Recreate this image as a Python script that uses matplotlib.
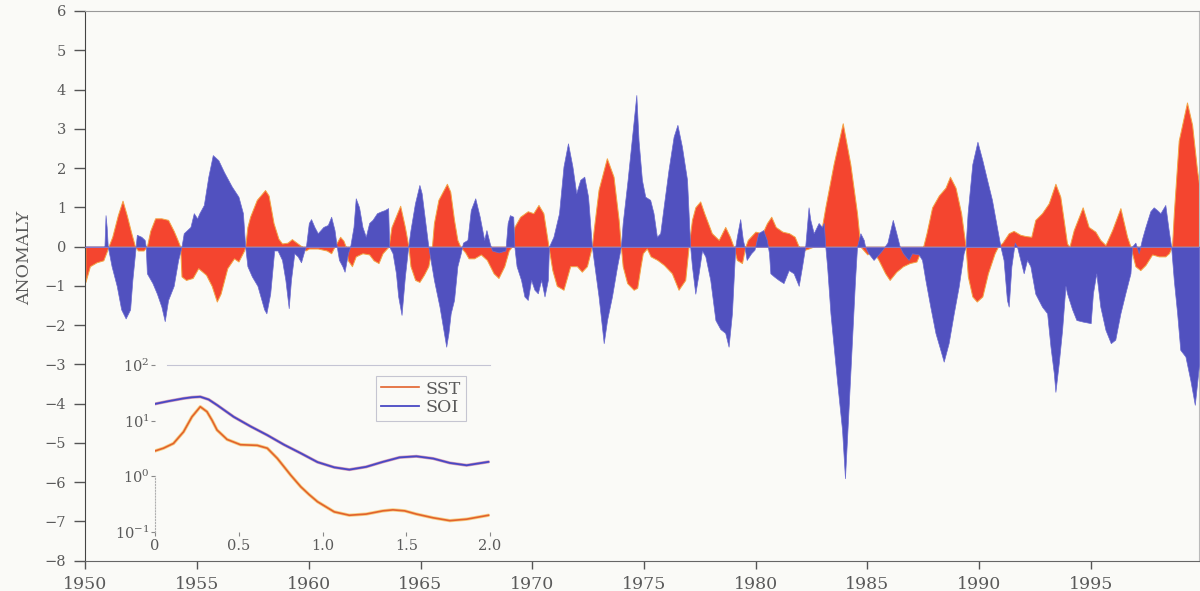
import matplotlib
matplotlib.use("Agg")
import matplotlib.pyplot as plt

plt.rcParams['font.family'] = ['DejaVu Serif']
plt.rcParams['mathtext.fontset'] = 'dejavuserif'

# SST anomaly (red), sampled at turning points
sst_years = [1950.0, 1950.2, 1950.5, 1950.8, 1950.97, 1951.03, 1951.2, 1951.45, 1951.66, 1951.85,
             1952.05, 1952.22, 1952.35, 1952.6, 1952.75, 1952.9, 1953.12, 1953.4, 1953.7, 1953.95,
             1954.1, 1954.24, 1954.3, 1954.5, 1954.8, 1955.05, 1955.4, 1955.65, 1955.88, 1956.05,
             1956.35, 1956.65, 1956.85, 1957.1, 1957.15, 1957.25, 1957.37, 1957.67, 1958.04, 1958.2,
             1958.42, 1958.64, 1958.8, 1959.05, 1959.24, 1959.45, 1959.69, 1959.85, 1960.0, 1960.4,
             1960.8, 1961.0, 1961.15, 1961.4, 1961.55, 1961.65, 1961.75, 1961.93, 1962.1, 1962.4,
             1962.7, 1962.9, 1963.12, 1963.3, 1963.57, 1963.7, 1964.09, 1964.3, 1964.46, 1964.55,
             1964.76, 1964.95, 1965.15, 1965.35, 1965.51, 1965.6, 1965.8, 1966.18, 1966.33, 1966.5,
             1966.65, 1966.78, 1967.0, 1967.15, 1967.4, 1967.7, 1967.97, 1968.27, 1968.49, 1968.75,
             1968.95, 1969.09, 1969.2, 1969.46, 1969.8, 1970.05, 1970.28, 1970.5, 1970.73, 1970.9,
             1971.1, 1971.4, 1971.7, 1972.0, 1972.22, 1972.45, 1972.67, 1972.75, 1972.97, 1973.34,
             1973.64, 1973.87, 1973.97, 1974.05, 1974.25, 1974.54, 1974.7, 1974.85, 1974.95, 1975.13,
             1975.3, 1975.6, 1975.9, 1976.25, 1976.55, 1976.85, 1977.0, 1977.15, 1977.3, 1977.52,
             1977.7, 1978.04, 1978.35, 1978.64, 1978.85, 1979.01, 1979.16, 1979.39, 1979.54, 1979.65,
             1979.99, 1980.3, 1980.51, 1980.7, 1980.9, 1981.2, 1981.5, 1981.75, 1981.93, 1982.1,
             1982.37, 1982.6, 1982.85, 1983.12, 1983.49, 1983.9, 1984.24, 1984.54, 1984.69, 1985.0,
             1985.25, 1985.5, 1985.8, 1986.0, 1986.3, 1986.6, 1986.9, 1987.2, 1987.4, 1987.5,
             1987.65, 1987.9, 1988.2, 1988.5, 1988.7, 1988.95, 1989.2, 1989.4, 1989.5, 1989.7,
             1989.9, 1990.15, 1990.4, 1990.7, 1990.85, 1991.05, 1991.33, 1991.55, 1991.85, 1992.07,
             1992.34, 1992.52, 1992.82, 1993.12, 1993.42, 1993.64, 1993.79, 1993.94, 1994.05, 1994.24,
             1994.64, 1994.91, 1995.21, 1995.43, 1995.66, 1995.96, 1996.33, 1996.63, 1996.78, 1997.0,
             1997.22, 1997.45, 1997.75, 1998.05, 1998.34, 1998.5, 1998.64, 1998.72, 1998.94, 1999.31,
             1999.54, 1999.76, 1999.85]
sst_vals = [-0.9, -0.5, -0.4, -0.35, -0.1, 0.0, 0.25, 0.8, 1.17, 0.8,
            0.35, 0.0, -0.1, -0.1, 0.0, 0.4, 0.72, 0.72, 0.68, 0.4,
            0.2, 0.0, -0.76, -0.85, -0.8, -0.55, -0.72, -1.0, -1.4, -1.2,
            -0.55, -0.3, -0.38, -0.1, 0.0, 0.5, 0.76, 1.19, 1.44, 1.3,
            0.6, 0.2, 0.08, 0.1, 0.19, 0.1, 0.0, -0.1, -0.05, -0.05,
            -0.1, -0.17, 0.0, 0.25, 0.15, 0.0, -0.35, -0.5, -0.25, -0.17,
            -0.2, -0.35, -0.42, -0.17, 0.0, 0.5, 1.04, 0.5, 0.0, -0.5,
            -0.85, -0.9, -0.72, -0.5, 0.0, 0.6, 1.19, 1.6, 1.4, 0.68,
            0.17, 0.0, -0.15, -0.3, -0.3, -0.2, -0.34, -0.68, -0.8, -0.5,
            -0.1, 0.0, 0.5, 0.76, 0.9, 0.85, 1.06, 0.85, 0.0, -0.6,
            -1.0, -1.1, -0.5, -0.5, -0.64, -0.5, 0.0, 0.42, 1.45, 2.25,
            1.78, 0.68, 0.0, -0.5, -0.93, -1.1, -1.05, -0.5, -0.17, -0.05,
            -0.25, -0.34, -0.47, -0.68, -1.1, -0.85, 0.0, 0.68, 1.0, 1.15,
            0.85, 0.34, 0.17, 0.5, 0.25, 0.0, -0.34, -0.42, 0.0, 0.17,
            0.38, 0.34, 0.6, 0.76, 0.5, 0.38, 0.34, 0.25, 0.0, -0.1,
            -0.05, 0.0, 0.1, 1.0, 2.1, 3.14, 2.1, 0.85, 0.0, -0.2,
            -0.1, -0.34, -0.68, -0.85, -0.64, -0.5, -0.42, -0.38, -0.1, 0.0,
            0.34, 1.0, 1.3, 1.5, 1.78, 1.5, 0.85, 0.0, -0.76, -1.27,
            -1.4, -1.27, -0.68, -0.17, 0.0, 0.1, 0.34, 0.4, 0.3, 0.27,
            0.25, 0.68, 0.85, 1.1, 1.6, 1.27, 0.68, 0.08, 0.0, 0.42,
            1.0, 0.5, 0.38, 0.17, 0.04, 0.42, 0.98, 0.25, 0.0, -0.5,
            -0.6, -0.47, -0.2, -0.25, -0.25, -0.17, 0.0, 0.85, 2.7, 3.67,
            3.1, 1.95, 1.6]

# Southern Oscillation Index (blue)
soi_years = [1950.0, 1950.85, 1950.9, 1950.95, 1951.0, 1951.17, 1951.4, 1951.6, 1951.8, 1952.0,
             1952.1, 1952.25, 1952.3, 1952.5, 1952.65, 1952.7, 1952.75, 1953.0, 1953.2, 1953.4,
             1953.55, 1953.7, 1953.95, 1954.15, 1954.3, 1954.4, 1954.7, 1954.85, 1955.0, 1955.1,
             1955.3, 1955.5, 1955.7, 1955.95, 1956.2, 1956.55, 1956.85, 1957.05, 1957.15, 1957.25,
             1957.45, 1957.7, 1958.0, 1958.1, 1958.27, 1958.45, 1958.6, 1958.8, 1958.95, 1959.1,
             1959.2, 1959.35, 1959.5, 1959.65, 1959.8, 1959.87, 1960.0, 1960.1, 1960.25, 1960.4,
             1960.65, 1960.85, 1961.0, 1961.15, 1961.25, 1961.35, 1961.5, 1961.6, 1961.75, 1961.85,
             1962.0, 1962.1, 1962.25, 1962.4, 1962.55, 1962.7, 1962.85, 1963.05, 1963.25, 1963.4,
             1963.55, 1963.6, 1963.75, 1963.9, 1964.0, 1964.15, 1964.3, 1964.45, 1964.55, 1964.75,
             1964.95, 1965.05, 1965.2, 1965.35, 1965.45, 1965.6, 1965.85, 1966.0, 1966.15, 1966.25,
             1966.35, 1966.5, 1966.65, 1966.8, 1966.9, 1967.1, 1967.25, 1967.45, 1967.65, 1967.85,
             1967.95, 1968.1, 1968.2, 1968.5, 1968.8, 1968.9, 1969.0, 1969.15, 1969.2, 1969.3,
             1969.5, 1969.65, 1969.8, 1969.95, 1970.1, 1970.25, 1970.4, 1970.55, 1970.7, 1970.75,
             1970.95, 1971.2, 1971.4, 1971.6, 1971.8, 1971.97, 1972.15, 1972.33, 1972.5, 1972.67,
             1972.75, 1972.97, 1973.12, 1973.2, 1973.35, 1973.57, 1973.8, 1973.97, 1974.05, 1974.27,
             1974.5, 1974.66, 1974.76, 1974.91, 1975.06, 1975.28, 1975.43, 1975.58, 1975.73, 1975.88,
             1976.1, 1976.33, 1976.5, 1976.7, 1976.93, 1977.0, 1977.07, 1977.15, 1977.3, 1977.45,
             1977.6, 1977.75, 1977.97, 1978.2, 1978.42, 1978.64, 1978.79, 1978.94, 1979.09, 1979.16,
             1979.31, 1979.43, 1979.5, 1979.6, 1979.8, 1979.95, 1980.12, 1980.34, 1980.5, 1980.6,
             1980.66, 1980.82, 1981.03, 1981.25, 1981.48, 1981.7, 1981.93, 1982.08, 1982.22, 1982.37,
             1982.45, 1982.6, 1982.82, 1982.97, 1983.05, 1983.12, 1983.2, 1983.35, 1983.64, 1983.87,
             1984.0, 1984.15, 1984.3, 1984.45, 1984.54, 1984.69, 1984.84, 1984.9, 1985.05, 1985.28,
             1985.5, 1985.65, 1985.9, 1986.14, 1986.3, 1986.45, 1986.6, 1986.85, 1987.0, 1987.3,
             1987.45, 1987.6, 1987.82, 1988.05, 1988.27, 1988.42, 1988.64, 1988.87, 1989.09, 1989.31,
             1989.4, 1989.49, 1989.7, 1989.93, 1990.15, 1990.36, 1990.58, 1990.8, 1990.96, 1991.1,
             1991.25, 1991.33, 1991.45, 1991.6, 1991.7, 1991.85, 1992.0, 1992.15, 1992.3, 1992.52,
             1992.82, 1993.05, 1993.2, 1993.35, 1993.42, 1993.57, 1993.72, 1993.87, 1993.94, 1994.17,
             1994.36, 1994.64, 1995.0, 1995.1, 1995.25, 1995.43, 1995.66, 1995.9, 1996.1, 1996.33,
             1996.55, 1996.78, 1996.85, 1997.0, 1997.15, 1997.3, 1997.45, 1997.67, 1997.82, 1997.97,
             1998.12, 1998.34, 1998.49, 1998.6, 1998.72, 1998.87, 1999.01, 1999.24, 1999.46, 1999.66,
             1999.85]
soi_vals = [0.0, 0.0, 0.8, 0.5, 0.0, -0.5, -1.0, -1.6, -1.83, -1.6,
            -0.85, 0.0, 0.3, 0.25, 0.17, 0.0, -0.68, -0.93, -1.2, -1.53,
            -1.9, -1.36, -1.0, -0.34, 0.0, 0.34, 0.5, 0.85, 0.72, 0.85,
            1.06, 1.78, 2.33, 2.2, 1.9, 1.53, 1.27, 0.85, 0.0, -0.5,
            -0.76, -1.0, -1.6, -1.7, -1.2, -0.1, -0.1, -0.34, -0.85, -1.57,
            -0.85, -0.17, -0.25, -0.4, -0.1, 0.0, 0.6, 0.7, 0.5, 0.34,
            0.5, 0.55, 0.76, 0.42, 0.0, -0.34, -0.5, -0.64, -0.17, 0.0,
            0.5, 1.23, 1.0, 0.5, 0.25, 0.6, 0.68, 0.85, 0.9, 0.93,
            0.98, 0.0, -0.17, -0.68, -1.27, -1.74, -0.76, 0.0, 0.42, 1.1,
            1.57, 1.36, 0.68, 0.0, -0.34, -0.85, -1.53, -2.04, -2.55, -2.2,
            -1.7, -1.36, -0.5, -0.17, 0.1, 0.17, 0.93, 1.23, 0.76, 0.17,
            0.42, 0.08, -0.1, -0.15, -0.1, 0.6, 0.8, 0.76, 0.0, -0.5,
            -0.85, -1.27, -1.36, -0.85, -1.1, -1.19, -0.85, -1.27, -0.85, 0.0,
            0.25, 0.85, 2.04, 2.63, 2.04, 1.36, 1.7, 1.78, 1.27, 0.0,
            -0.34, -1.27, -2.04, -2.46, -1.87, -1.27, -0.5, 0.0, 0.6, 1.7,
            2.97, 3.86, 2.7, 1.7, 1.27, 1.19, 0.85, 0.25, 0.34, 1.0,
            1.95, 2.8, 3.1, 2.55, 1.7, 0.85, 0.0, -0.5, -1.2, -0.68,
            -0.1, -0.25, -0.85, -1.87, -2.1, -2.2, -2.55, -1.7, 0.0, 0.25,
            0.7, 0.17, 0.0, -0.34, -0.17, -0.08, 0.34, 0.42, 0.17, -0.17,
            -0.68, -0.76, -0.85, -0.93, -0.6, -0.68, -1.0, -0.5, 0.0, 1.0,
            0.68, 0.34, 0.6, 0.5, 0.6, 0.0, -0.5, -1.7, -3.4, -4.67,
            -5.9, -4.25, -2.55, -0.85, 0.0, 0.34, 0.17, 0.0, -0.17, -0.34,
            -0.2, -0.1, 0.1, 0.68, 0.34, 0.0, -0.17, -0.34, -0.17, -0.2,
            -0.34, -0.85, -1.53, -2.2, -2.63, -2.93, -2.46, -1.7, -1.02, -0.17,
            0.0, 0.85, 2.1, 2.67, 2.2, 1.7, 1.19, 0.5, 0.0, -0.34,
            -1.36, -1.53, -0.5, 0.1, 0.0, -0.34, -0.68, -0.34, -0.5, -1.2,
            -1.53, -1.7, -2.55, -3.23, -3.7, -2.97, -2.12, -1.0, -1.19, -1.6,
            -1.87, -1.91, -1.95, -1.19, -0.68, -1.53, -2.12, -2.46, -2.37, -1.7,
            -1.19, -0.68, 0.0, 0.1, -0.17, 0.2, 0.5, 0.9, 1.0, 0.93,
            0.85, 1.06, 0.42, 0.0, -0.85, -1.7, -2.63, -2.8, -3.4, -4.03,
            -3.0]

# power spectra for the inset
sst_freq = [0.0, 0.05, 0.11, 0.17, 0.22, 0.27, 0.31, 0.34, 0.37, 0.43,
            0.51, 0.61, 0.67, 0.73, 0.81, 0.87, 0.92, 0.97, 1.07, 1.16,
            1.26, 1.36, 1.42, 1.49, 1.56, 1.66, 1.76, 1.86, 1.99]
sst_power = [2.86, 3.2, 3.9, 6.3, 11.7, 17.8, 14.5, 10.2, 6.8, 4.6,
             3.7, 3.6, 3.2, 2.1, 1.05, 0.65, 0.47, 0.35, 0.23, 0.20,
             0.21, 0.24, 0.25, 0.24, 0.21, 0.18, 0.16, 0.17, 0.20]
soi_freq = [0.0, 0.08, 0.17, 0.22, 0.27, 0.32, 0.37, 0.47, 0.57, 0.67,
            0.77, 0.87, 0.97, 1.07, 1.16, 1.26, 1.36, 1.46, 1.56, 1.66,
            1.76, 1.86, 1.99]
soi_power = [20.0, 22.4, 25.1, 26.3, 26.9, 24.0, 19.1, 11.7, 7.9, 5.5,
             3.7, 2.6, 1.8, 1.45, 1.32, 1.48, 1.82, 2.19, 2.29, 2.09,
             1.74, 1.58, 1.82]

year_ticks = [1950, 1955, 1960, 1965, 1970, 1975, 1980, 1985, 1990, 1995]
freq_ticks = [0, 0.5, 1.0, 1.5, 2.0]
freq_labels = ['0', '0.5', '1.0', '1.5', '2.0']

bg = '#fafaf7'
red = '#f4452f'
blue = '#5151bf'
txt = '#5a5a5a'

fig = plt.figure(figsize=(12, 5.91), dpi=100, facecolor=bg)
ax = fig.add_axes([0.0712, 0.0513, 0.928, 0.9301])
ax.set_facecolor(bg)

ax.fill_between(sst_years, 0, sst_vals, facecolor=red, edgecolor='#f3a545', linewidth=0.7, zorder=2)
ax.fill_between(soi_years, 0, soi_vals, facecolor=blue, edgecolor='#6b6bd0', linewidth=0.5, zorder=3)
ax.axhline(0, color='#8a7ac8', linewidth=0.6, zorder=4)

ax.set_xlim(1950, 1999.85)
ax.set_ylim(-8, 6)
ax.set_xticks(year_ticks)
ax.set_yticks(range(-8, 7))
ax.tick_params(axis='x', direction='out', length=6, width=1, colors='#555555', labelsize=12.5, pad=5)
ax.tick_params(axis='y', direction='out', length=8, width=1, colors='#555555', labelsize=10.5, pad=6)
for lab in ax.get_xticklabels() + ax.get_yticklabels():
    lab.set_color(txt)
ax.spines['left'].set_color('#444444')
ax.spines['bottom'].set_color('#666666')
ax.spines['top'].set_color('#999999')
ax.spines['right'].set_color('#bbbbbb')
ax.set_ylabel('ANOMALY', fontsize=12.5, color=txt)
ax.yaxis.set_label_coords(-0.047, 0.55)

# inset: spectra
ins = fig.add_axes([0.1292, 0.0998, 0.2792, 0.2826])
ins.patch.set_alpha(0)
ins.plot(sst_freq, sst_power, color='#f7cf85', linewidth=2.4, solid_capstyle='round', zorder=1)
l1, = ins.plot(sst_freq, sst_power, color='#e2622c', linewidth=1.2, label='SST', zorder=2)
ins.plot(soi_freq, soi_power, color='#d49ab8', linewidth=2.2, solid_capstyle='round', zorder=1)
l2, = ins.plot(soi_freq, soi_power, color='#4848c4', linewidth=1.3, label='SOI', zorder=2)
ins.set_yscale('log')
ins.set_ylim(0.1, 100)
ins.set_xlim(0, 2.0)
ins.set_xticks(freq_ticks)
ins.set_xticklabels(freq_labels)
ins.set_yticks([0.1, 1, 10, 100])
ins.set_yticklabels([r'$10^{-1}$', r'$10^{0}$', r'$10^{1}$', r'$10^{2}$'])
ins.minorticks_off()
ins.tick_params(axis='both', colors='#888888', labelsize=10.5, length=3, width=0.8)
ins.tick_params(axis='x', pad=2)
ins.tick_params(axis='y', pad=1)
for lab in ins.get_xticklabels() + ins.get_yticklabels():
    lab.set_color(txt)
ins.spines['right'].set_visible(False)
ins.spines['bottom'].set_visible(False)
ins.spines['top'].set_color('#c4c4d4')
ins.spines['top'].set_bounds(0.07, 2.0)
ins.spines['left'].set_color('#b0b0b0')
ins.spines['left'].set_linestyle(':')
ins.spines['left'].set_bounds(0.1, 1)

leg = ins.legend(handles=[l1, l2], loc='upper left', bbox_to_anchor=(0.635, 0.985),
                 fontsize=12.5, frameon=True, fancybox=False, handlelength=2.2,
                 handletextpad=0.4, borderpad=0.25, labelspacing=0.1)
leg.get_frame().set_edgecolor('#b8b8c8')
leg.get_frame().set_facecolor(bg)
leg.get_frame().set_linewidth(0.8)
for t in leg.get_texts():
    t.set_color(txt)

fig.savefig('out.png', dpi=100, facecolor=bg)
